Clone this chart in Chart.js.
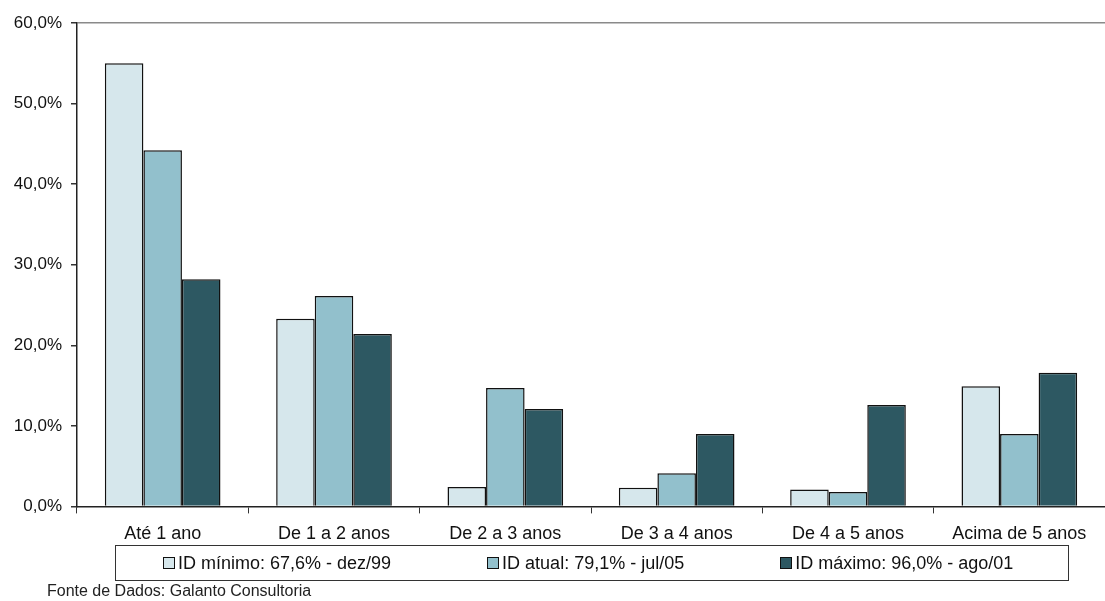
<!DOCTYPE html>
<html>
<head>
<meta charset="utf-8">
<script src="https://cdn.jsdelivr.net/npm/chart.js@4/dist/chart.umd.min.js"></script>
<style>
  html, body { margin: 0; padding: 0; background: #fff; }
  #wrap { position: relative; width: 1105px; height: 601px; }
  #legend {
    position: absolute; left: 115px; top: 545px; width: 954px; height: 36px;
    border: 1px solid #333; box-sizing: border-box; padding-left: 47px;
    display: flex; justify-content: flex-start; align-items: center;
    font: 18px "Liberation Sans", Arial, sans-serif; color: #111;
  }
  #legend .item { display: flex; align-items: center; white-space: nowrap; }
  #legend .item:nth-child(1) { margin-right: 96px; }
  #legend .item:nth-child(2) { margin-right: 96px; }
  #legend .sw {
    width: 12px; height: 12px; border: 1.5px solid #111; margin-right: 3px;
    box-sizing: border-box;
  }
  #fonte {
    position: absolute; left: 47px; top: 582px;
    font: 16px "Liberation Sans", Arial, sans-serif; color: #222;
  }
</style>
</head>
<body>
<div id="wrap">
  <canvas id="chart" width="1105" height="601"></canvas>
  <div id="legend"></div>
  <div id="fonte">Fonte de Dados: Galanto Consultoria</div>
</div>
<script>
const categories = [
    "Até 1 ano",
    "De 1 a 2 anos",
    "De 2 a 3 anos",
    "De 3 a 4 anos",
    "De 4 a 5 anos",
    "Acima de 5 anos"
];

const idMinimo = [55.0, 23.3, 2.4, 2.3, 2.1, 14.9];
const idAtual = [44.2, 26.1, 14.7, 4.1, 1.8, 9.0];
const idMaximo = [28.2, 21.4, 12.1, 9.0, 12.6, 16.6];

const seriesNames = [
    "ID mínimo: 67,6% - dez/99",
    "ID atual: 79,1% - jul/05",
    "ID máximo: 96,0% - ago/01"
];

const seriesColors = ["#D6E7EC", "#92C0CC", "#2D5862"];

const yTicks = [0, 10, 20, 30, 40, 50, 60];

const FONT = "'Liberation Sans', Arial, sans-serif";

const chart = new Chart(document.getElementById("chart"), {

    type: "bar",

    data: {

        labels: categories,

        datasets: [idMinimo, idAtual, idMaximo].map((vals, i) => ({
            label: seriesNames[i],
            data: vals,
            backgroundColor: seriesColors[i],
            borderColor: "#111",
            borderWidth: 1.5
        }))
    },

    options: {

        responsive: false,
        animation: false,

        categoryPercentage: 0.675,
        barPercentage: 1.0,

        layout: {
            padding: { top: 23, right: 0, left: 4, bottom: 46 }
        },

        plugins: {
            legend: { display: false },
            tooltip: { enabled: false }
        },

        scales: {

            x: {
                grid: {
                    offset: true,
                    drawOnChartArea: false,
                    tickColor: "#333",
                    tickLength: 7
                },
                border: { color: "#222", width: 1.5 },
                ticks: {
                    color: "#111",
                    font: { family: FONT, size: 18 },
                    padding: 10,
                    maxRotation: 0
                }
            },

            y: {
                min: 0,
                max: 60,
                afterBuildTicks(axis) {
                    axis.ticks = yTicks.map(v => ({ value: v }));
                },
                afterFit(axis) {
                    axis.width = 73;
                },
                grid: {
                    color: ctx => (ctx.tick && ctx.tick.value === 60) ? "#8a8a8a" : "transparent",
                    lineWidth: 1.5,
                    tickColor: "#333",
                    tickLength: 6
                },
                border: { color: "#222", width: 1.5 },
                ticks: {
                    color: "#111",
                    font: { family: FONT, size: 17 },
                    padding: 9,
                    callback: v => v.toFixed(1).replace(".", ",") + "%"
                }
            }
        }
    }
});

// legend drawn as html so it can sit in its own framed box
const legendEl = document.getElementById("legend");
chart.data.datasets.forEach(ds => {
    const item = document.createElement("div");
    item.className = "item";
    const sw = document.createElement("span");
    sw.className = "sw";
    sw.style.background = ds.backgroundColor;
    item.appendChild(sw);
    item.appendChild(document.createTextNode(ds.label));
    legendEl.appendChild(item);
});
</script>
</body>
</html>
